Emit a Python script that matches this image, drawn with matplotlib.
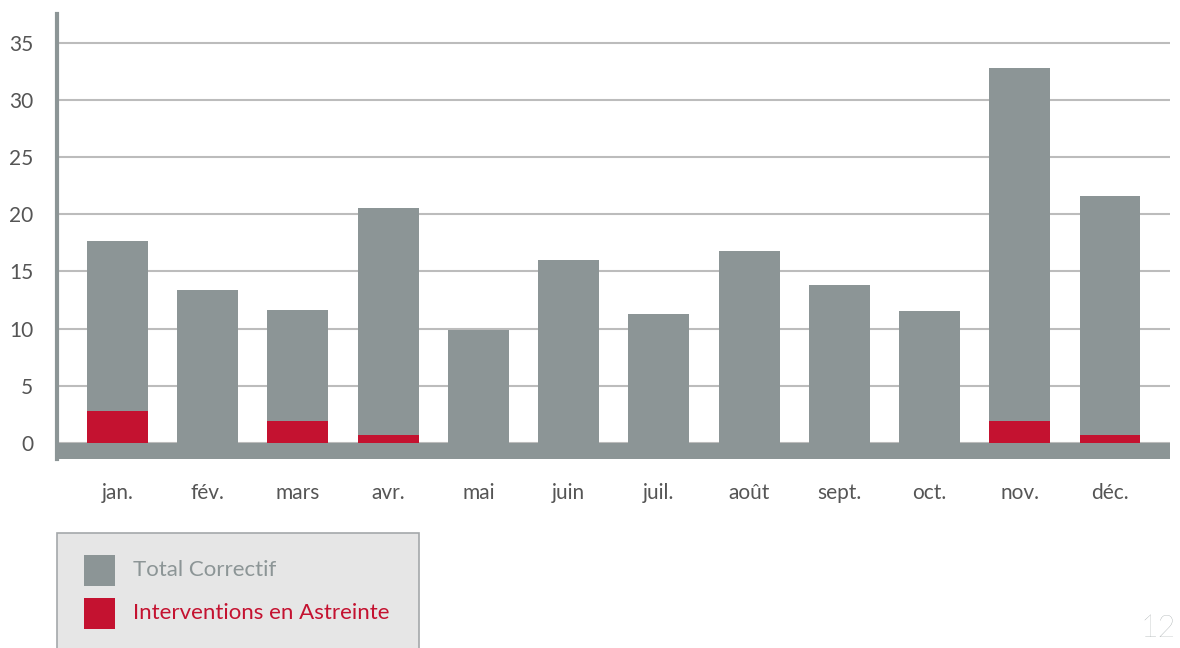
import matplotlib
matplotlib.use('Agg')
import matplotlib.pyplot as plt
from matplotlib.patches import Rectangle

# ── Data ─────────────────────────────────────────────────────────────────────
months = ['jan.', 'fév.', 'mars', 'avr.', 'mai', 'juin',
          'juil.', 'août', 'sept.', 'oct.', 'nov.', 'déc.']
total_correctif = [17.7, 13.4, 11.6, 20.5, 9.9, 16.0,
                   11.3, 16.8, 13.8, 11.5, 32.8, 21.6]
astreinte = [2.8, 0, 1.9, 0.7, 0, 0,
             0, 0, 0, 0, 1.9, 0.7]
y_ticks = [0, 5, 10, 15, 20, 25, 30, 35]

GREY = '#8c9596'
RED = '#c41230'
GRID = '#bcbcbc'
TXT = '#555555'

plt.rcParams['font.family'] = ['Lato', 'DejaVu Sans']

W, H = 1180, 648
fig = plt.figure(figsize=(W / 100, H / 100), dpi=100)
fig.patch.set_facecolor('white')

# axes box in pixel terms
ax = fig.add_axes([57 / W, 1 - 459 / H, (1170 - 57) / W, (459 - 14) / H])
ax.set_facecolor('white')

x = list(range(len(months)))
ax.bar(x, total_correctif, width=0.676, color=GREY, zorder=2)
ax.bar(x, astreinte, width=0.676, color=RED, zorder=3)

# grey base band under zero
ax.axhspan(-1.4, 0, color=GREY, zorder=4, lw=0)

ax.set_xlim(-0.671, 11.665)
ax.set_ylim(-1.4, 37.5)

ax.set_yticks(y_ticks)
ax.set_yticklabels([str(v) for v in y_ticks])
ax.yaxis.grid(True, color=GRID, lw=1.5, zorder=1)
ax.set_axisbelow(True)
ax.set_xticks(x)
ax.set_xticklabels(months)
ax.tick_params(axis='y', length=0, pad=17, labelsize=15, labelcolor=TXT)
ax.tick_params(axis='x', length=0, pad=17, labelsize=15, labelcolor=TXT)

for s in ['top', 'right', 'bottom']:
    ax.spines[s].set_visible(False)
ax.spines['left'].set_color(GREY)
ax.spines['left'].set_linewidth(3)
ax.spines['left'].set_zorder(5)

# ── Legend box (partly cut off at the bottom) ────────────────────────────────
def fx(px):
    return px / W

def fy(py):
    return 1 - py / H

fig.patches.append(Rectangle((fx(57), fy(660)), fx(419) - fx(57), fy(533) - fy(660),
                             transform=fig.transFigure, facecolor='#e6e6e6',
                             edgecolor='#a4a8aa', lw=1.2, zorder=0))
fig.patches.append(Rectangle((fx(84), fy(586)), fx(115) - fx(84), fy(555) - fy(586),
                             transform=fig.transFigure, facecolor=GREY, lw=0))
fig.patches.append(Rectangle((fx(84), fy(629)), fx(115) - fx(84), fy(598) - fy(629),
                             transform=fig.transFigure, facecolor=RED, lw=0))
fig.text(fx(133), fy(570), 'Total Correctif', color=GREY, fontsize=16,
         va='center', ha='left')
fig.text(fx(133), fy(613), 'Interventions en Astreinte', color=RED, fontsize=16,
         va='center', ha='left')

# page number
fig.text(fx(1176), fy(643), '12', color='#9aa1a3', fontsize=22,
         fontweight='light', va='bottom', ha='right')

fig.savefig('out.png', dpi=100)
